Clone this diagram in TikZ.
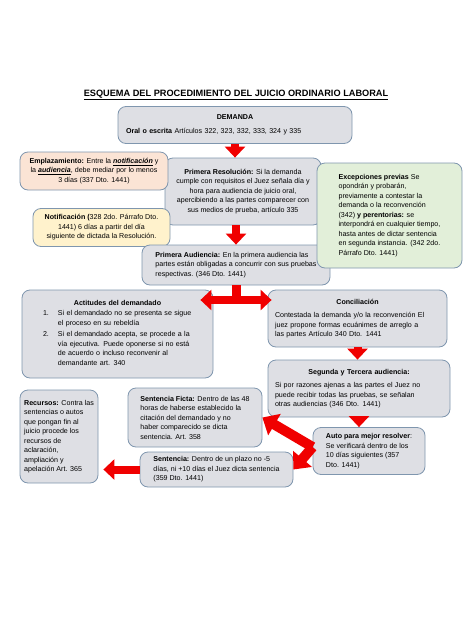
\documentclass[tikz,border=0pt]{standalone}
\usepackage{fontspec}
\setmainfont{Liberation Sans}
\usetikzlibrary{arrows.meta,calc}

\definecolor{boxgray}{HTML}{DEDFE4}
\definecolor{boxedge}{HTML}{7F96AE}
\definecolor{boxpeach}{HTML}{FBE4D5}
\definecolor{boxyellow}{HTML}{FFF2CC}
\definecolor{boxgreen}{HTML}{E2EFD9}
\definecolor{arrowred}{HTML}{F00000}

\begin{document}
\begin{tikzpicture}[
    x=1pt, y=-1pt,
    box/.style={rectangle, rounded corners=8pt, draw=boxedge, line width=0.8pt, fill=boxgray,
        inner xsep=7pt, inner ysep=3pt, align=left, font=\fontsize{7.1}{9.5}\selectfont},
    peachbox/.style={box, fill=boxpeach, align=center},
    yellowbox/.style={box, fill=boxyellow, align=center},
    greenbox/.style={box, fill=boxgreen},
    heading/.style={font=\fontsize{9.2}{11}\selectfont\bfseries},
    redarrow/.style={draw=arrowred, line width=8pt, -{Triangle[width=20pt,length=11pt]}},
    reddouble/.style={draw=arrowred, line width=8pt, {Triangle[width=20pt,length=11pt]}-{Triangle[width=20pt,length=11pt]}},
    bigarrow/.style={draw=arrowred, line width=10pt, -{Triangle[width=24pt,length=14pt]}},
]
\useasboundingbox (0,0) rectangle (474,632);

% ====== Title ======
\node[heading] (title) at (236,95) {\underline{ESQUEMA DEL PROCEDIMIENTO DEL JUICIO ORDINARIO LABORAL}};

% ====== Top part ======
\node[box, minimum width=234pt, minimum height=37pt, text width=218pt, inner xsep=8pt] (demanda) at (235,125)
    {\makebox[\hsize]{\textbf{DEMANDA}}\\[5pt]\textbf{Oral o escrita} Artículos 322, 323, 332, 333, 324 y 335};
\node[box, align=center, minimum width=156pt, minimum height=67pt, inner xsep=4pt] (primres) at (243,191.5)
    {\textbf{Primera Resolución:} Si la demanda\\ cumple con requisitos el Juez señala día y\\ hora para audiencia de juicio oral,\\ apercibiendo a las partes comparecer con\\ sus medios de prueba, artículo 335};
\node[peachbox, minimum width=148pt, minimum height=38pt, inner xsep=4pt] (emplaz) at (94,171)
    {\textbf{Emplazamiento:} Entre la \underline{\textbf{\textit{notificación}}} y\\ la \underline{\textbf{\textit{audiencia}}}, debe mediar por lo menos\\ 3 días (337 Dto. 1441)};
\node[yellowbox, minimum width=137pt, minimum height=38pt, inner xsep=4pt] (notif) at (101.5,227.5)
    {\textbf{Notificación (}328 2do. Párrafo Dto.\\ 1441) 6 días a partir del día\\ siguiente de dictada la Resolución.};
\node[box, minimum width=188pt, minimum height=40pt, inner xsep=5pt] (primaud) at (236,265)
    {\textbf{Primera Audiencia:} En la primera audiencia las\\ partes están obligadas a concurrir con sus pruebas\\ respectivas. (346 Dto. 1441)};
\node[greenbox, minimum width=145pt, minimum height=105pt, inner xsep=5pt] (excep) at (389.5,215.5)
    {\textbf{Excepciones previas} Se\\ opondrán y probarán,\\ previamente a contestar la\\ demanda o la reconvención\\ (342) \textbf{y perentorias:} se\\ interpondrá en cualquier tiempo,\\ hasta antes de dictar sentencia\\ en segunda instancia. (342 2do.\\ Párrafo Dto. 1441)};

% ====== Middle part ======
\node[box, minimum width=191pt, minimum height=88pt, text width=177pt, inner xsep=7pt] (actitudes) at (117.5,334)
    {\makebox[\hsize]{\textbf{Actitudes del demandado}}\\[3pt]
     \begin{tabular}{@{\hspace{14pt}}l@{\hspace{9pt}}l@{}}
     1. & Si el demandado no se presenta se sigue\\
        & el proceso en su rebeldía\\[2pt]
     2. & Si el demandado acepta, se procede a la\\
        & vía ejecutiva. Puede oponerse si no está\\
        & de acuerdo o incluso reconvenir al\\
        & demandante art. 340
     \end{tabular}};
\node[box, minimum width=179pt, minimum height=57pt, text width=165pt, inner xsep=7pt] (concil) at (357.5,318.5)
    {\makebox[\hsize]{\textbf{Conciliación}}\\[4pt]Contestada la demanda y/o la reconvención El\\ juez propone formas ecuánimes de arreglo a\\ las partes Artículo 340 Dto. 1441};
\node[box, minimum width=182pt, minimum height=57pt, text width=168pt, inner xsep=7pt] (segunda) at (359,388.5)
    {\makebox[\hsize]{\textbf{Segunda y Tercera audiencia:}}\\[4pt]Si por razones ajenas a las partes el Juez no\\ puede recibir todas las pruebas, se señalan\\ otras audiencias (346 Dto. 1441)};

% ====== Bottom part ======
\node[box, minimum width=112pt, minimum height=47pt] (auto) at (369,451)
    {\textbf{Auto para mejor resolver}:\\ Se verificará dentro de los\\ 10 días siguientes (357\\ Dto. 1441)};
\node[box, minimum width=134pt, minimum height=59pt] (ficta) at (195,417.5)
    {\textbf{Sentencia Ficta:} Dentro de las 48\\ horas de haberse establecido la\\ citación del demandado y no\\ haber comparecido se dicta\\ sentencia. Art. 358};
\node[box, minimum width=153pt, minimum height=35pt, inner xsep=4pt] (sentencia) at (216.5,469.5)
    {\textbf{Sentencia:} Dentro de un plazo no -5\\ días, ni +10 días el Juez dicta sentencia\\ (359 Dto. 1441)};
\node[box, minimum width=78pt, minimum height=93pt, inner xsep=3pt] (recursos) at (59,436.5)
    {\textbf{Recursos:} Contra las\\ sentencias o autos\\ que pongan fin al\\ juicio procede los\\ recursos de\\ aclaración,\\ ampliación y\\ apelación Art. 365};

% ====== Red arrows ======
\coordinate (split) at (236,300);
\coordinate (fork) at ($(auto.west)+(0,-4)$);
\draw[redarrow] (demanda.south) -- (demanda.south |- primres.north);
\draw[redarrow] (primres.south -| primaud.north) -- (primaud.north);
\draw[draw=arrowred, line width=9pt] (primaud.south) -- (split);
\draw[reddouble] ($(split -| actitudes.east)+(-13,0)$) -- ($(split -| concil.west)+(4,0)$);
\draw[redarrow] (concil.south) -- (concil.south |- segunda.north);
\draw[redarrow] (segunda.south) -- (segunda.south |- auto.north);
\draw[bigarrow] (fork) -- (ficta.east);
\draw[bigarrow] (fork) -- (sentencia.east);
\draw[redarrow] (sentencia.west) -- ($(sentencia.west -| recursos.east)+(5,0)$);

\end{tikzpicture}
\end{document}
